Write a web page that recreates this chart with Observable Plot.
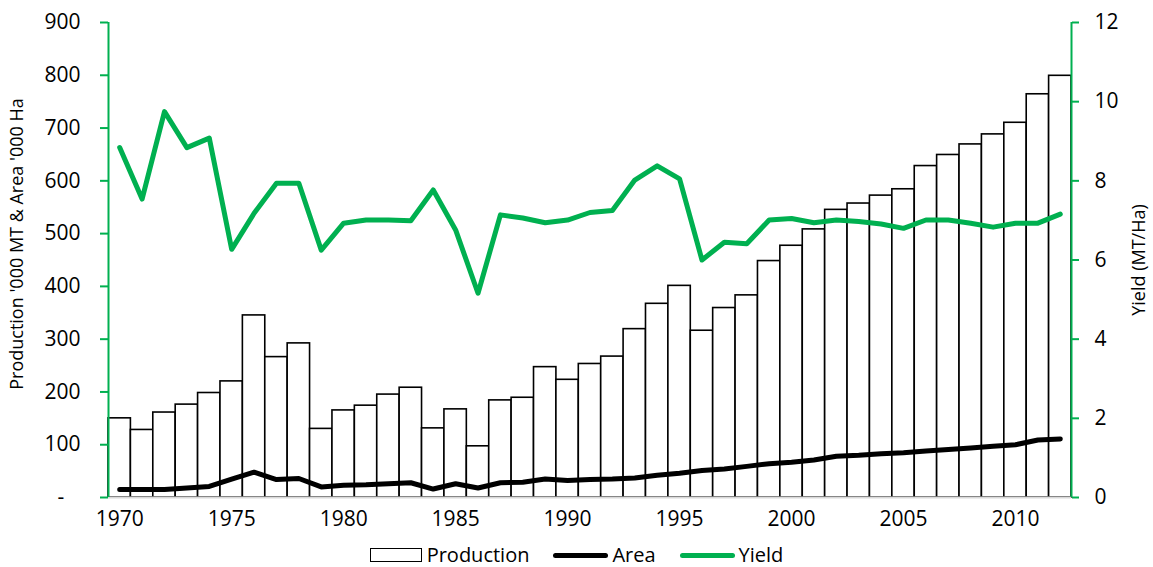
<!DOCTYPE html>
<html>
<head>
<meta charset="utf-8">
<script src="https://cdn.jsdelivr.net/npm/d3@7"></script>
<script src="https://cdn.jsdelivr.net/npm/@observablehq/plot@0.6"></script>
<style>
  html, body { margin: 0; padding: 0; background: #fff; }
  body { width: 1153px; height: 567px; overflow: hidden; font-family: "Open Sans", sans-serif; }
  #chart svg { display: block; }
  #legend { display: flex; justify-content: center; align-items: center; height: 22px; line-height: 22px; padding-top: 7px; font-size: 20px; color: #000; }
  #legend .item { display: flex; align-items: center; margin: 0 12px; height: 22px; }
  #legend .box { width: 50px; height: 12px; border: 1.5px solid #000; background: #fff; margin-right: 5px; }
  #legend .ln { width: 55px; height: 5px; border-radius: 3px; margin-right: 4px; }
</style>
</head>
<body>
<div id="chart"></div>
<div id="legend">
  <div class="item"><div class="box"></div><span>Production</span></div>
  <div class="item"><div class="ln" style="background:#000"></div><span>Area</span></div>
  <div class="item"><div class="ln" style="background:#00b050"></div><span>Yield</span></div>
</div>
<script>
const years = [1970,1971,1972,1973,1974,1975,1976,1977,1978,1979,
  1980,1981,1982,1983,1984,1985,1986,1987,1988,1989,
  1990,1991,1992,1993,1994,1995,1996,1997,1998,1999,
  2000,2001,2002,2003,2004,2005,2006,2007,2008,2009,
  2010,2011,2012];
const production = [150,128,161,176,198,220,345,266,292,130,
  165,174,195,208,131,167,97,184,189,247,
  223,253,267,319,367,401,316,359,383,448,
  477,508,545,557,572,584,628,649,669,688,
  710,764,799];
const area = [15,15,15,18,21,35,48,34,36,20,
  23,24,26,28,16,26,18,28,29,35,
  32,34,35,37,42,46,51,54,59,64,
  67,71,78,80,83,85,88,91,94,97,
  100,109,111];
const yieldVals = [8.84,7.54,9.75,8.84,9.08,6.27,7.18,7.94,7.94,6.25,
  6.93,7.01,7.01,6.99,7.77,6.76,5.16,7.14,7.06,6.94,
  7.01,7.20,7.25,8.02,8.38,8.05,6.00,6.45,6.41,7.01,
  7.05,6.94,7.01,6.97,6.91,6.80,7.01,7.01,6.93,6.83,
  6.93,6.93,7.16];
const leftTicks = [0,100,200,300,400,500,600,700,800,900];
const rightTicks = [0,2,4,6,8,10,12];
const xTicks = [1970,1975,1980,1985,1990,1995,2000,2005,2010];

const yMax = 900, y2Max = 12, k = yMax / y2Max;
const green = "#00b050";
const data = years.map((year, i) => ({year, prod: production[i], area: area[i], yld: yieldVals[i]}));

const chart = Plot.plot({
  width: 1153,
  height: 537,
  marginTop: 22,
  marginBottom: 40,
  marginLeft: 108,
  marginRight: 82,
  style: { fontFamily: "'Open Sans', sans-serif", fontSize: "20px", color: "#000", background: "#fff" },
  x: { domain: [years[0] - 0.5, years[years.length - 1] + 0.5] },
  y: { domain: [0, yMax] },
  marks: [
    Plot.rect(data, { x1: d => d.year - 0.5, x2: d => d.year + 0.5, y1: 0, y2: "prod", fill: "#fff", stroke: "#000", strokeWidth: 1.6 }),
    Plot.ruleY([0], { stroke: "#d9d9d9", strokeWidth: 2 }),
    Plot.line(data, { x: "year", y: "area", stroke: "#000", strokeWidth: 5 }),
    Plot.line(data, { x: "year", y: d => d.yld * k, stroke: green, strokeWidth: 5 }),
    Plot.ruleX([years[0] - 0.5, years[years.length - 1] + 0.5], { stroke: green, strokeWidth: 2 }),
    Plot.axisY({
      anchor: "left", ticks: leftTicks,
      tickFormat: d => d === 0 ? "-\u00a0\u00a0\u00a0" : String(d),
      tickSize: 8, tickPadding: 20, stroke: green, strokeWidth: 2, fill: "#000",
      label: null, fontSize: 21
    }),
    Plot.axisY({
      anchor: "right", ticks: rightTicks.map(v => v * k),
      tickFormat: d => String(Math.round(d / k)),
      tickSize: 7, tickPadding: 16, stroke: green, strokeWidth: 2, fill: "#000",
      label: null, fontSize: 21
    }),
    Plot.axisX({
      ticks: xTicks, tickFormat: d => String(d), tickSize: 0, tickPadding: 14, label: null, fontSize: 21
    })
  ]
});
document.getElementById("chart").appendChild(chart);

// rotated axis titles
const svg = d3.select(chart);
svg.append("text")
  .attr("transform", "translate(18,244) rotate(-90)")
  .attr("text-anchor", "middle").attr("dominant-baseline", "middle")
  .attr("font-size", 18).attr("fill", "#000")
  .text("Production '000 MT & Area '000 Ha");
svg.append("text")
  .attr("transform", "translate(1140,260) rotate(-90)")
  .attr("text-anchor", "middle").attr("dominant-baseline", "middle")
  .attr("font-size", 18).attr("fill", "#000")
  .text("Yield (MT/Ha)");
</script>
</body>
</html>
